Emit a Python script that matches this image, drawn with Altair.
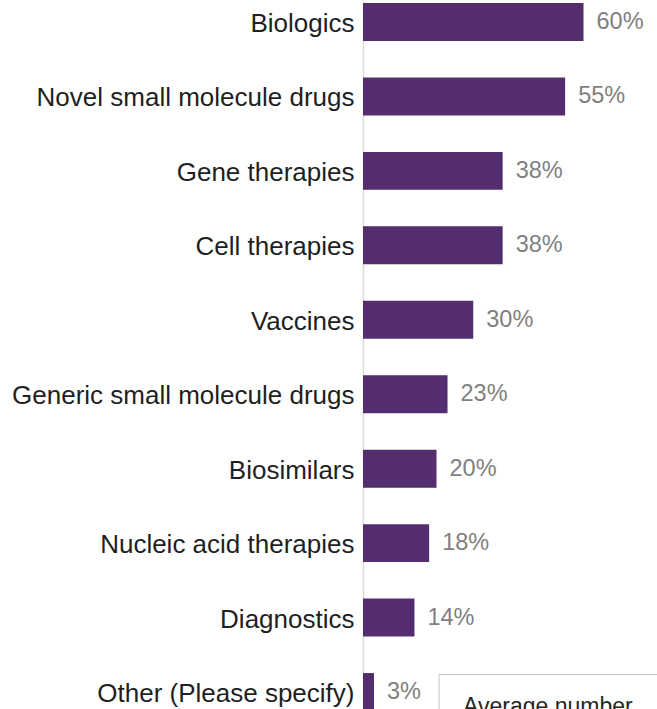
import altair as alt
import pandas as pd

categories = [
    "Biologics",
    "Novel small molecule drugs",
    "Gene therapies",
    "Cell therapies",
    "Vaccines",
    "Generic small molecule drugs",
    "Biosimilars",
    "Nucleic acid therapies",
    "Diagnostics",
    "Other (Please specify)",
]
values = [60, 55, 38, 38, 30, 23, 20, 18, 14, 3]
box_text = ["Average number"]

df = pd.DataFrame({"category": categories, "value": values})
box_df = pd.DataFrame({"t": box_text})

FONT = "Liberation Sans"
BAR = "#532d6d"

y_enc = alt.Y(
    "category:N",
    sort=categories,
    title=None,
    scale=alt.Scale(paddingInner=0.49, paddingOuter=0.04, range=[0, 714]),
    axis=alt.Axis(
        domainColor="#dcdcdc",
        domainWidth=1.5,
        ticks=False,
        labelFontSize=26,
        labelFont=FONT,
        labelColor="#1f1f1f",
        labelPadding=9,
        labelOffset=2,
        labelLimit=0,
        grid=False,
    ),
)
x_enc = alt.X("value:Q", scale=alt.Scale(domain=[0, 80]), axis=None)

bars = alt.Chart(df).mark_bar(color=BAR).encode(x=x_enc, y=y_enc)

labels = (
    alt.Chart(df)
    .transform_calculate(label="datum.value + '%'")
    .mark_text(align="left", baseline="middle", dx=13, fontSize=23.5, font=FONT, color="#7f7f7f")
    .encode(x=x_enc, y=y_enc, text="label:N")
)

box = alt.Chart(box_df).mark_rect(fill="white", stroke="#c4c4c4", strokeWidth=1).encode(
    x=alt.value(76), x2=alt.value(420), y=alt.value(674.5), y2=alt.value(820)
)
box_label = alt.Chart(box_df).mark_text(
    align="left", baseline="alphabetic", fontSize=23, font=FONT, color="#262626"
).encode(x=alt.value(100), y=alt.value(714), text="t:N")

chart = (
    alt.layer(bars, labels, box, box_label)
    .properties(
        width=294,
        height=709,
        autosize=alt.AutoSizeParams(type="none"),
        padding={"left": 363, "top": 0, "right": 0, "bottom": 0},
    )
    .configure_view(stroke=None)
)

chart.save("out.html", embed_options={"renderer": "svg", "actions": False})
